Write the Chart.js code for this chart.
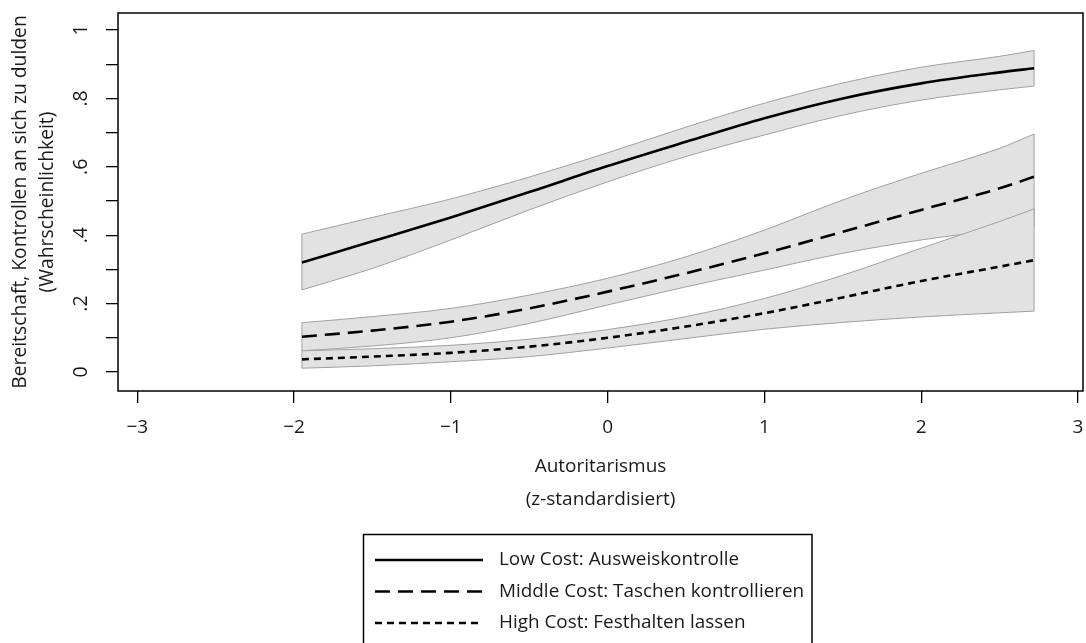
<!DOCTYPE html>
<html><head><meta charset="utf-8">
<script src="https://cdn.jsdelivr.net/npm/chart.js@4"></script>
<style>html,body{margin:0;padding:0;background:#fff}#wrap{width:1086px;height:643px}</style>
</head><body><div id="wrap"><canvas id="c" width="1086" height="643"></canvas></div>
<script>
// ---- data ----
const xValues = [-1.95, -1.5, -1, -0.5, 0, 0.5, 1, 1.5, 2, 2.5, 2.72];

const lowFit  = [0.320, 0.382, 0.452, 0.526, 0.602, 0.673, 0.742, 0.800, 0.844, 0.876, 0.888];
const lowLo   = [0.240, 0.303, 0.386, 0.474, 0.556, 0.630, 0.693, 0.751, 0.795, 0.825, 0.836];
const lowHi   = [0.403, 0.452, 0.506, 0.570, 0.641, 0.716, 0.786, 0.845, 0.891, 0.923, 0.940];

const midFit  = [0.103, 0.121, 0.147, 0.186, 0.235, 0.289, 0.347, 0.410, 0.474, 0.537, 0.571];
const midLo   = [0.062, 0.076, 0.100, 0.142, 0.196, 0.249, 0.298, 0.347, 0.386, 0.415, 0.425];
const midHi   = [0.144, 0.162, 0.186, 0.225, 0.274, 0.337, 0.415, 0.503, 0.581, 0.654, 0.696];

const highFit = [0.037, 0.045, 0.056, 0.074, 0.100, 0.133, 0.172, 0.218, 0.266, 0.308, 0.327];
const highLo  = [0.011, 0.018, 0.030, 0.045, 0.070, 0.098, 0.125, 0.145, 0.161, 0.173, 0.178];
const highHi  = [0.062, 0.068, 0.078, 0.096, 0.124, 0.162, 0.215, 0.283, 0.362, 0.440, 0.477];

const seriesLabels = ['Low Cost: Ausweiskontrolle', 'Middle Cost: Taschen kontrollieren', 'High Cost: Festhalten lassen'];
const xTickValues = [-3, -2, -1, 0, 1, 2, 3];
const xTickLabels = ['\u22123', '\u22122', '\u22121', '0', '1', '2', '3'];
const yTickValues = [0, 0.1, 0.2, 0.3, 0.4, 0.5, 0.6, 0.7, 0.8, 0.9, 1];
const yTickLabels = ['0', '', '.2', '', '.4', '', '.6', '', '.8', '', '1'];
const xTitle = ['Autoritarismus', '(z-standardisiert)'];
const yTitle = ['Bereitschaft, Kontrollen an sich zu dulden', '(Wahrscheinlichkeit)'];

// ---- build ----
const FONT = "'Open Sans', 'Noto Sans', sans-serif";
const TXT = '#1a1a1a';
const BAND_FILL = '#e2e2e2';
const BAND_EDGE = '#a0a0a0';

function pts(ys) { return xValues.map((x, i) => ({x: x, y: ys[i]})); }
function edge(lo, hi, i) { return [{x: xValues[i], y: lo[i]}, {x: xValues[i], y: hi[i]}]; }

const datasets = [];
const bands = [
  {lo: midLo, hi: midHi, k: 20},
  {lo: highLo, hi: highHi, k: 10},
  {lo: lowLo, hi: lowHi, k: 30}
];
const curve = {pointRadius: 0, cubicInterpolationMode: 'monotone', fill: false};
bands.forEach(b => {
  datasets.push(Object.assign({}, curve, {data: pts(b.lo), borderWidth: 0, borderColor: 'rgba(0,0,0,0)', order: b.k + 0.4}));
  datasets.push(Object.assign({}, curve, {data: pts(b.hi), borderWidth: 0, borderColor: 'rgba(0,0,0,0)', fill: '-1', backgroundColor: BAND_FILL, order: b.k + 0.3}));
  datasets.push(Object.assign({}, curve, {data: pts(b.lo), borderWidth: 1, borderColor: BAND_EDGE, order: b.k + 0.2}));
  datasets.push(Object.assign({}, curve, {data: pts(b.hi), borderWidth: 1, borderColor: BAND_EDGE, order: b.k + 0.1}));
  datasets.push({data: edge(b.lo, b.hi, 0), borderWidth: 1, borderColor: BAND_EDGE, pointRadius: 0, tension: 0, fill: false, order: b.k});
  datasets.push({data: edge(b.lo, b.hi, xValues.length - 1), borderWidth: 1, borderColor: BAND_EDGE, pointRadius: 0, tension: 0, fill: false, order: b.k});
});
const mainStyles = [[], [15, 8], [7, 5]];
[lowFit, midFit, highFit].forEach((ys, i) => {
  datasets.push(Object.assign({}, curve, {
    label: seriesLabels[i], isMain: true, data: pts(ys),
    borderColor: '#000', borderWidth: 2.6, borderDash: mainStyles[i],
    borderCapStyle: 'butt', order: i
  }));
});

const framePlugin = {
  id: 'frame',
  afterDatasetsDraw(chart) {
    const a = chart.chartArea, ctx = chart.ctx;
    ctx.save();
    ctx.strokeStyle = '#000'; ctx.lineWidth = 1.5;
    ctx.strokeRect(a.left, a.top, a.right - a.left, a.bottom - a.top);
    ctx.restore();
  }
};

const legendPlugin = {
  id: 'legendBox',
  afterDraw(chart) {
    const ctx = chart.ctx;
    const box = {left: 363.5, top: 534.5, right: 812, bottom: 680};
    ctx.save();
    ctx.strokeStyle = '#000'; ctx.lineWidth = 1.5;
    ctx.strokeRect(box.left, box.top, box.right - box.left, box.bottom - box.top);
    const mains = chart.data.datasets.filter(d => d.isMain);
    const rowY = [560, 591.5, 623];
    mains.forEach((d, i) => {
      ctx.beginPath();
      ctx.setLineDash(d.borderDash || []);
      ctx.lineWidth = d.borderWidth; ctx.strokeStyle = d.borderColor; ctx.lineCap = 'butt';
      ctx.moveTo(375, rowY[i]); ctx.lineTo(483, rowY[i]);
      ctx.stroke();
      ctx.setLineDash([]);
      ctx.fillStyle = TXT;
      ctx.font = "18.9px " + FONT;
      ctx.textBaseline = 'middle'; ctx.textAlign = 'left';
      ctx.fillText(d.label, 499, rowY[i]);
    });
    ctx.restore();
  }
};

new Chart(document.getElementById('c'), {
  type: 'line',
  data: {datasets: datasets},
  options: {
    responsive: false, animation: false, devicePixelRatio: 1,
    layout: {padding: {top: 13, right: 3, left: 0, bottom: 0}},
    plugins: {legend: {display: false}, tooltip: {enabled: false}},
    scales: {
      x: {
        type: 'linear', min: -3.123, max: 3.032,
        afterBuildTicks: s => { s.ticks = xTickValues.map(v => ({value: v})); },
        afterFit: s => { s.height = 252; s.paddingLeft = 0; s.paddingRight = 0; },
        border: {display: false},
        grid: {drawOnChartArea: false, drawTicks: true, tickLength: 12, tickColor: '#000', lineWidth: 1.3},
        ticks: {
          color: TXT, font: {family: FONT, size: 19}, padding: 13, maxRotation: 0,
          callback: (v, i) => xTickLabels[i]
        },
        title: {display: true, text: xTitle, color: TXT,
          font: {family: FONT, size: 19, lineHeight: 33 / 19}, padding: {top: 0, bottom: 126.5}}
      },
      y: {
        type: 'linear', min: -0.0556, max: 1.0497,
        afterBuildTicks: s => { s.ticks = yTickValues.map(v => ({value: v})); },
        afterFit: s => { s.width = 118; s.paddingTop = 0; s.paddingBottom = 0; },
        border: {display: false},
        grid: {drawOnChartArea: false, drawTicks: true, tickLength: 12, tickColor: '#000', lineWidth: 1.3},
        ticks: {
          color: TXT, font: {family: FONT, size: 19.5}, padding: 16,
          minRotation: 90, maxRotation: 90, crossAlign: 'center',
          callback: (v, i) => yTickLabels[i]
        },
        title: {display: true, text: yTitle, color: TXT,
          font: {family: FONT, size: 19.3, lineHeight: 27 / 19.3}, padding: {top: 7, bottom: 0}}
      }
    }
  },
  plugins: [framePlugin, legendPlugin]
});
</script></body></html>
